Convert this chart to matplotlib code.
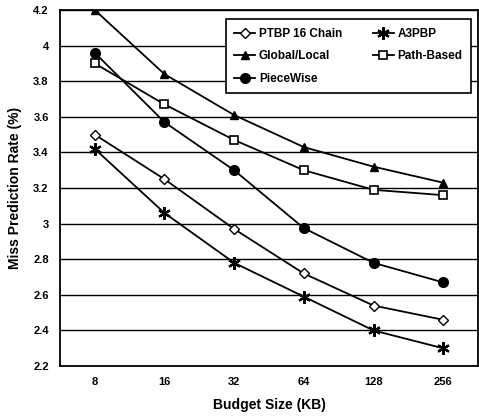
import numpy as np
import matplotlib.pyplot as plt

# budget sizes (categories)
budgets = ['8', '16', '32', '64', '128', '256']

ptbp = [3.50, 3.25, 2.97, 2.72, 2.54, 2.46]
a3pbp = [3.42, 3.06, 2.78, 2.59, 2.40, 2.30]
global_local = [4.20, 3.84, 3.61, 3.43, 3.32, 3.23]
path_based = [3.90, 3.67, 3.47, 3.30, 3.19, 3.16]
piecewise = [3.96, 3.57, 3.30, 2.975, 2.78, 2.67]

yticks = [2.2, 2.4, 2.6, 2.8, 3, 3.2, 3.4, 3.6, 3.8, 4, 4.2]
ytick_labels = ['2.2', '2.4', '2.6', '2.8', '3', '3.2', '3.4', '3.6', '3.8', '4', '4.2']

plt.rcParams['font.family'] = ['Liberation Sans', 'DejaVu Sans']
plt.rcParams['font.weight'] = 'bold'

fig = plt.figure(figsize=(4.79, 4.16), dpi=100)
ax = fig.add_axes([0.125, 0.12, 0.873, 0.856])

x = np.arange(len(budgets))
kw = dict(color='black', lw=1.3, ms=6)
h_ptbp, = ax.plot(x, ptbp, marker='D', mfc='white', mec='black', ms=5, label='PTBP 16 Chain', color='black', lw=1.3)
h_a3, = ax.plot(x, a3pbp, marker=(6, 2, 0), mec='black', mew=1.6, label='A3PBP', color='black', lw=1.3, ms=9)
h_gl, = ax.plot(x, global_local, marker='^', mfc='black', label='Global/Local', **kw)
h_pb, = ax.plot(x, path_based, marker='s', mfc='white', mec='black', mew=1.2, label='Path-Based', **kw)
h_pw, = ax.plot(x, piecewise, marker='o', mfc='black', ms=7, label='PieceWise', color='black', lw=1.3)

ax.set_xlim(-0.5, len(budgets) - 0.5)
ax.set_ylim(2.2, 4.2)
ax.set_xticks(x)
ax.set_xticklabels(budgets)
ax.set_yticks(yticks)
ax.set_yticklabels(ytick_labels)
ax.tick_params(axis='both', length=0, labelsize=8, pad=8)
ax.yaxis.grid(True, color='black', lw=1)
ax.set_axisbelow(True)
for s in ax.spines.values():
    s.set_linewidth(1.3)

ax.set_xlabel('Budget Size (KB)', fontsize=10, fontweight='bold', labelpad=8)
ax.set_ylabel('Miss Prediction Rate (%)', fontsize=10, fontweight='bold', labelpad=8)

# row-major order like the original legend
handles = [h_ptbp, h_gl, h_pw, h_a3, h_pb]
leg = ax.legend(handles=handles, ncol=2, loc='upper right', bbox_to_anchor=(0.997, 0.99),
                fontsize=8.5, frameon=True, fancybox=False, edgecolor='black', framealpha=1,
                handlelength=1.8, handletextpad=0.3, columnspacing=2.6, borderpad=0.7,
                labelspacing=0.9)
leg.get_frame().set_linewidth(1.2)

fig.savefig('out.png', dpi=100)
